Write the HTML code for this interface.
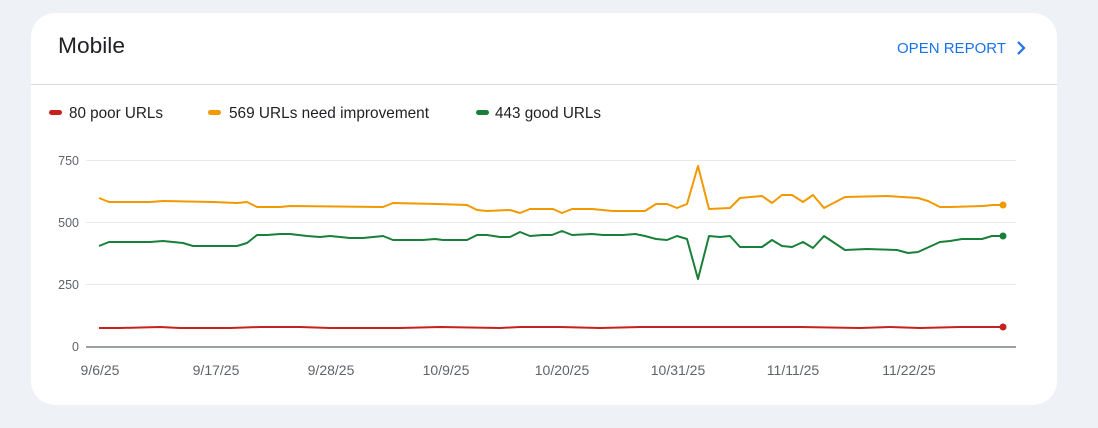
<!DOCTYPE html>
<html><head><style>
body{margin:0;width:1098px;height:428px;background:#eef1f6;font-family:"Liberation Sans",Arial,sans-serif;position:relative;overflow:hidden}
.card{position:absolute;left:31px;top:13px;width:1026px;height:392px;background:#fff;border-radius:24px}
</style></head><body>
<div class="card"></div>
<svg style="position:absolute;left:0;top:0" width="1098" height="428">
<text x="58" y="53" font-size="22" fill="#202124" textLength="67" lengthAdjust="spacingAndGlyphs">Mobile</text>
<text x="897" y="53" font-size="15" fill="#1a73e8" textLength="109" lengthAdjust="spacingAndGlyphs">OPEN REPORT</text>
<polyline points="1018,42 1024,48 1018,54" fill="none" stroke="#1a73e8" stroke-width="2.2"/>
<line x1="31" y1="84.5" x2="1057" y2="84.5" stroke="#dadce0"/>
<rect x="49" y="110" width="13" height="5" rx="2.5" fill="#c5221f"/>
<rect x="208" y="110" width="13" height="5" rx="2.5" fill="#f29900"/>
<rect x="476" y="110" width="13" height="5" rx="2.5" fill="#188038"/>
<g font-size="16" fill="#202124">
<text x="69" y="118" textLength="94" lengthAdjust="spacingAndGlyphs">80 poor URLs</text>
<text x="229" y="118" textLength="200" lengthAdjust="spacingAndGlyphs">569 URLs need improvement</text>
<text x="495" y="118" textLength="106" lengthAdjust="spacingAndGlyphs">443 good URLs</text>
</g>
<g stroke="#e8eaed"><line x1="86" y1="160.5" x2="1016" y2="160.5"/><line x1="86" y1="222.5" x2="1016" y2="222.5"/><line x1="86" y1="284.5" x2="1016" y2="284.5"/></g>
<line x1="86" y1="347" x2="1016" y2="347" stroke="#9aa0a6" stroke-width="2"/>
<g font-size="12.5" fill="#5f6368" text-anchor="end">
<text x="79" y="165">750</text><text x="79" y="227">500</text><text x="79" y="289">250</text><text x="79" y="351">0</text>
</g>
<g font-size="14" fill="#5f6368" text-anchor="middle">
<text x="100" y="375">9/6/25</text><text x="216" y="375">9/17/25</text><text x="331" y="375">9/28/25</text><text x="446" y="375">10/9/25</text><text x="562" y="375">10/20/25</text><text x="678" y="375">10/31/25</text><text x="793" y="375">11/11/25</text><text x="909" y="375">11/22/25</text>
</g>
<g fill="none" stroke-width="2" stroke-linejoin="round">
<polyline stroke="#f29900" points="99,198 109,202 150,202 163,201 213,202 237,203 247,202 257,207 280,207 290,206 383,207 393,203 437,204 467,205 477,210 487,211 510,210 520,213 530,209 553,209 562,213 572,209 592,209 613,211 645,211 656,204 667,204 677,208 687,204 698,166 709,209 730,208 740,198 751,197 762,196 772,203 782,195 792,195 803,202 813,195 824,208 845,197 887,196 918,198 928,201 940,207 950,207 983,206 993,205 1003,205"/>
<polyline stroke="#188038" points="99,246 109,242 150,242 163,241 173,242 183,243 193,246 203,246 237,246 247,243 257,235 267,235 280,234 290,234 307,236 320,237 330,236 340,237 350,238 363,238 373,237 383,236 393,240 423,240 435,239 443,240 467,240 477,235 487,235 500,237 510,237 520,232 530,236 543,235 552,235 562,231 572,235 592,234 603,235 623,235 635,234 645,236 656,239 667,240 677,236 687,239 698,279 709,236 720,237 730,236 740,247 762,247 772,240 782,246 792,247 803,242 813,248 824,236 845,250 867,249 897,250 908,253 918,252 940,242 950,241 962,239 982,239 992,236 1003,236"/>
<polyline stroke="#c5221f" points="99,328 120,328 160,327 180,328 230,328 260,327 300,327 330,328 400,328 440,327 500,328 520,327 560,327 600,328 640,327 700,327 750,327 800,327 860,328 890,327 920,328 960,327 1003,327"/>
</g>
<circle cx="1003" cy="205" r="3.5" fill="#f29900"/>
<circle cx="1003" cy="236" r="3.5" fill="#188038"/>
<circle cx="1003" cy="327" r="3.5" fill="#c5221f"/>
</svg>
</body></html>
